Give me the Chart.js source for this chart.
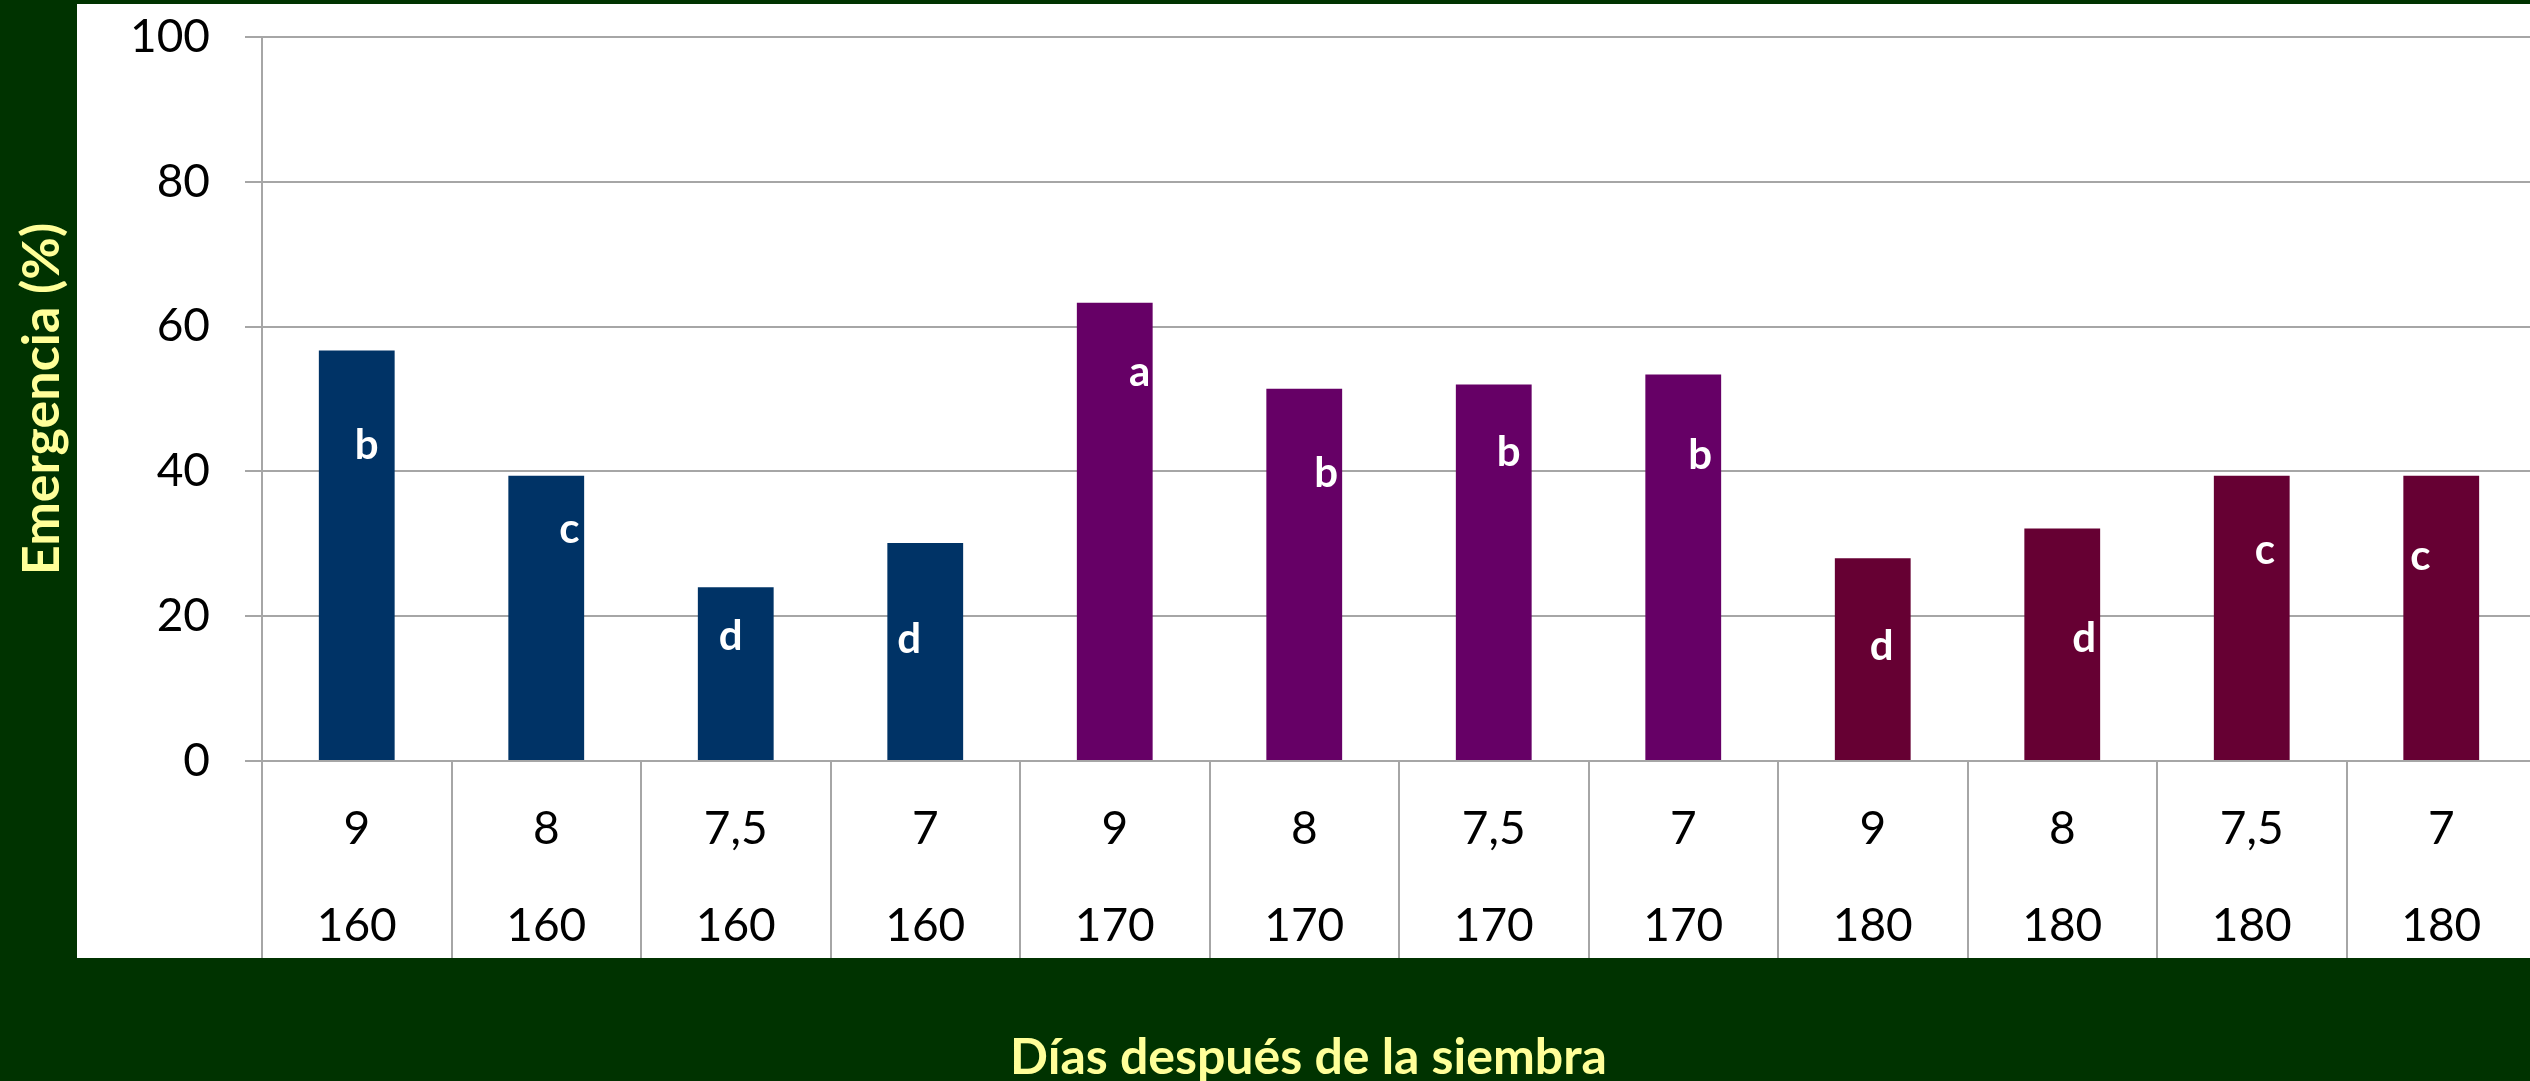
<!DOCTYPE html>
<html>
<head>
<meta charset="utf-8">
<style>
html, body { margin: 0; padding: 0; background: #003300; overflow: hidden; }
</style>
</head>
<body>
<canvas id="myChart" width="2536" height="1081"></canvas>
<script src="https://cdn.jsdelivr.net/npm/chart.js@4/dist/chart.umd.min.js"></script>
<script>
var doses = ["9", "8", "7,5", "7"];
var days = ["160", "170", "180"];
var emergence = [56.7, 39.4, 24.0, 30.1, 63.3, 51.4, 52.0, 53.4, 28.0, 32.1, 39.4, 39.4];
var letters = ["b", "c", "d", "d", "a", "b", "b", "b", "d", "d", "c", "c"];
var groupColors = ["#003366", "#660066", "#660033"];
var xTitle = "Días después de la siembra";
var yTitle = "Emergencia (%)";

// where each letter sits: y in axis units, x shift in px from the bar centre
var letterY = [41.7, 30.1, 15.4, 14.9, 51.8, 37.9, 40.7, 40.3, 14.0, 15.0, 27.2, 26.4];
var letterDx = [10, 23, -5, -16, 25, 22, 15, 17, 9, 22, 13, -21];

var labels = [];
var colors = [];
days.forEach(function(day, g){
	doses.forEach(function(dose){
		labels.push([dose, day]);
		colors.push(groupColors[g]);
	});
});

var gridGray = "#a6a6a6";
var FONT = "Lato, 'Open Sans', sans-serif";

var panel = {
	id: "panel",
	beforeDraw: function(chart){
		var ctx = chart.ctx;
		var a = chart.chartArea;
		ctx.save();
		ctx.fillStyle = "#003300";
		ctx.fillRect(0, 0, chart.width, chart.height);
		ctx.fillStyle = "#ffffff";
		ctx.fillRect(a.left - 185, a.top - 33, chart.width, a.bottom - a.top + 33 + 197);
		ctx.restore();
	},
	afterDraw: function(chart){
		// x title is centred on the white panel, not on the axis
		var ctx = chart.ctx;
		var a = chart.chartArea;
		var panelLeft = a.left - 185;
		var panelRight = a.right + 4;
		ctx.save();
		ctx.fillStyle = "#ffff99";
		ctx.font = "bold 50px " + FONT;
		ctx.textAlign = "center";
		ctx.textBaseline = "alphabetic";
		ctx.fillText(xTitle, (panelLeft + panelRight) / 2, a.bottom + 313);
		ctx.restore();
	}
};

var letterLabels = {
	id: "letterLabels",
	afterDatasetsDraw: function(chart){
		var ctx = chart.ctx;
		var meta = chart.getDatasetMeta(0);
		var y = chart.scales.y;
		ctx.save();
		ctx.fillStyle = "#ffffff";
		ctx.font = "bold 42px " + FONT;
		ctx.textAlign = "center";
		ctx.textBaseline = "alphabetic";
		meta.data.forEach(function(bar, i){
			ctx.fillText(letters[i], bar.x + letterDx[i], y.getPixelForValue(letterY[i]));
		});
		ctx.restore();
	}
};

Chart.defaults.font.family = FONT;

var ctx = document.getElementById("myChart").getContext("2d");
var myChart = new Chart(ctx, {
	type: "bar",
	data: {
		labels: labels,
		datasets: [{
			label: "Emergencia",
			data: emergence,
			backgroundColor: colors,
			barPercentage: 0.4,
			categoryPercentage: 1.0
		}]
	},
	options: {
		responsive: false,
		animation: false,
		layout: { padding: { top: 37, left: 0, right: 0, bottom: 0 } },
		plugins: {
			legend: { display: false },
			tooltip: { enabled: false }
		},
		scales: {
			x: {
				afterFit: function(scale){ scale.height = 320; },
				grid: {
					drawOnChartArea: false,
					tickLength: 197,
					color: gridGray,
					lineWidth: 2
				},
				border: { display: true, color: gridGray, width: 2 },
				ticks: {
					color: "#000000",
					font: { size: 46, lineHeight: 2.11 },
					padding: -177,
					maxRotation: 0,
					autoSkip: false
				}
			},
			y: {
				min: 0,
				max: 100,
				afterFit: function(scale){
					scale.width = 262;
					scale.paddingTop = 0;
					scale.paddingBottom = 0;
				},
				grid: {
					color: gridGray,
					lineWidth: 2,
					tickLength: 17
				},
				border: { display: true, color: gridGray, width: 2 },
				ticks: {
					stepSize: 20,
					color: "#000000",
					font: { size: 46 },
					padding: 35
				},
				title: {
					display: true,
					text: yTitle,
					color: "#ffff99",
					font: { size: 52, weight: "bold" },
					padding: { top: 11, bottom: 0 }
				}
			}
		}
	},
	plugins: [panel, letterLabels]
});
</script>
</body>
</html>
